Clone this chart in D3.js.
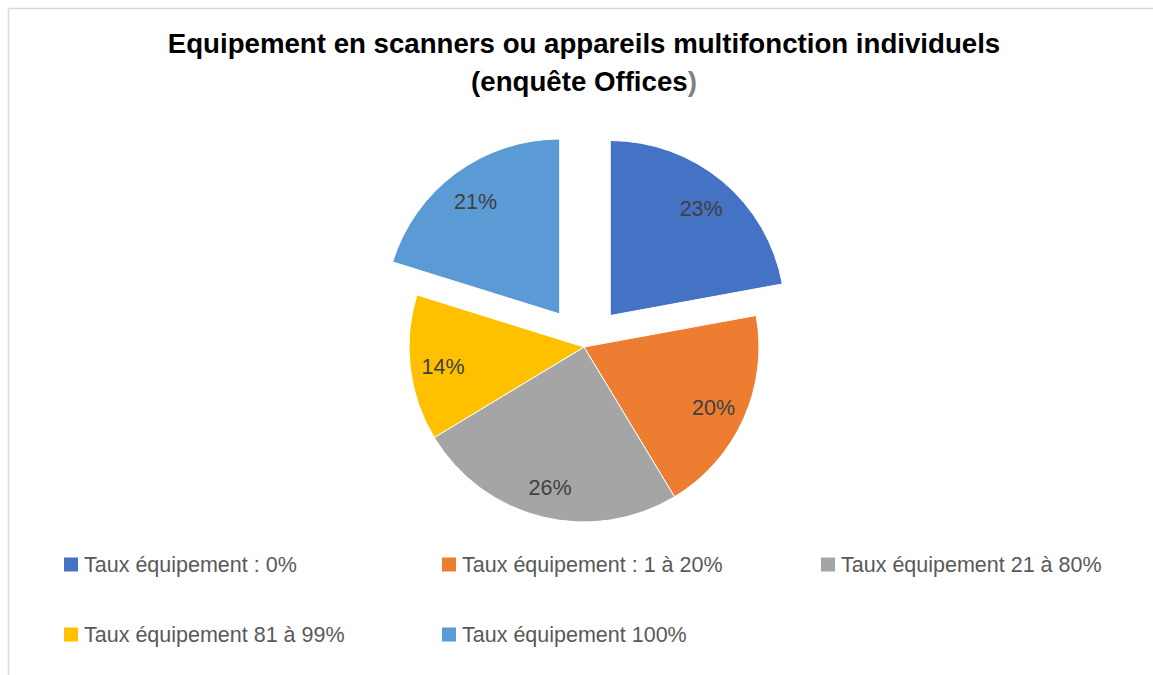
<!DOCTYPE html>
<html>
<head>
<meta charset="utf-8">
<script src="https://cdn.jsdelivr.net/npm/d3@7"></script>
<style>
  html, body { margin: 0; padding: 0; background: #fff; }
  svg { display: block; font-family: "Liberation Sans", Arial, sans-serif; }
</style>
</head>
<body>
<svg id="chart" width="1153" height="675"></svg>
<script>
// ---- data ----
const categories = [
  "Taux équipement : 0%",
  "Taux équipement : 1 à 20%",
  "Taux équipement 21 à 80%",
  "Taux équipement 81 à 99%",
  "Taux équipement 100%"
];
const values = [23, 20, 26, 14, 21];
const valueLabels = ["23%", "20%", "26%", "14%", "21%"];
const exploded = [true, false, false, false, true];
const colors = ["#4472C4", "#ED7D31", "#A5A5A5", "#FFC000", "#5B9BD5"];
const titleLines = ["Equipement en scanners ou appareils multifonction individuels", "(enquête Offices"];

// ---- layout ----
const W = 1153, H = 675;
const cx = 584, cy = 347, R = 175, explodeDist = 41, labelR = 142;
const svg = d3.select("#chart");

// border (top and left)
svg.append("line").attr("x1", 8.5).attr("y1", 8.5).attr("x2", W).attr("y2", 8.5)
  .attr("stroke", "#d9d9d9").attr("stroke-width", 1.5);
svg.append("line").attr("x1", 8.5).attr("y1", 8.5).attr("x2", 8.5).attr("y2", H)
  .attr("stroke", "#d9d9d9").attr("stroke-width", 1.5);

// title
const t1 = svg.append("text").attr("x", cx).attr("y", 53).attr("text-anchor", "middle")
  .attr("font-weight", "bold").attr("font-size", 24).attr("fill", "#000").text(titleLines[0]);
const w1 = t1.node().getComputedTextLength();
const titleSize = 24 * 833 / w1;
t1.attr("font-size", titleSize);
const t2 = svg.append("text").attr("x", cx).attr("y", 91).attr("text-anchor", "middle")
  .attr("font-weight", "bold").attr("font-size", titleSize).attr("fill", "#000");
t2.append("tspan").text(titleLines[1]);
t2.append("tspan").attr("fill", "#7f7f7f").text(")");

// pie
const pie = d3.pie().sort(null).value(d => d)(values);
const arc = d3.arc().innerRadius(0).outerRadius(R);
const labelArc = d3.arc().innerRadius(labelR).outerRadius(labelR);

const g = svg.append("g").attr("transform", `translate(${cx},${cy})`);
const slices = g.selectAll("g.slice").data(pie).enter().append("g")
  .attr("class", "slice")
  .attr("transform", (d, i) => {
    if (!exploded[i]) return null;
    const a = (d.startAngle + d.endAngle) / 2;
    return `translate(${explodeDist * Math.sin(a)},${-explodeDist * Math.cos(a)})`;
  });
slices.append("path").attr("d", arc)
  .attr("fill", (d, i) => colors[i])
  .attr("stroke", "#fff").attr("stroke-width", 1);
slices.append("text")
  .attr("transform", d => `translate(${labelArc.centroid(d)})`)
  .attr("text-anchor", "middle").attr("dy", "0.45em")
  .attr("font-size", 21.5).attr("fill", "#404040")
  .text((d, i) => valueLabels[i]);

// legend
const legendPos = [[64, 572], [442, 572], [821, 572], [64, 642], [442, 642]];
const lg = svg.append("g");
categories.forEach((c, i) => {
  const [x, y] = legendPos[i];
  lg.append("rect").attr("x", x).attr("y", y - 14.5).attr("width", 14).attr("height", 14)
    .attr("fill", colors[i]);
  lg.append("text").attr("x", x + 20).attr("y", y).attr("font-size", 21.5)
    .attr("fill", "#595959").text(c);
});
</script>
</body>
</html>
